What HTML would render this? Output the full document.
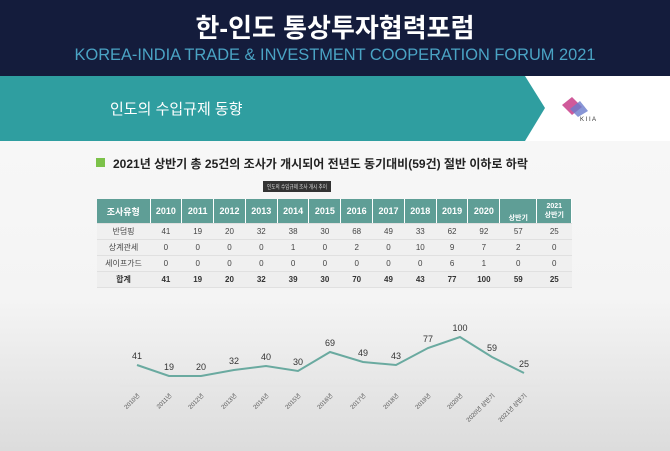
<!DOCTYPE html><html><head><meta charset="utf-8"><style>
body{margin:0;width:670px;height:451px;overflow:hidden;font-family:"Liberation Sans","Noto Sans CJK KR",sans-serif;background:linear-gradient(#fafafa,#f4f4f4 300px,#dcdcdc 451px);position:relative}
.hd{position:absolute;left:0;top:0;width:670px;height:76px;background:#141c3c}
.t1{position:absolute;top:8px;width:670px;text-align:center;color:#fff;font-size:26px;font-weight:bold}
.t2{position:absolute;top:46px;width:670px;text-align:center;color:#4aa3c4;font-size:16.4px}
.band{position:absolute;left:0;top:76px;width:670px;height:65px;background:#fff}
.teal{position:absolute;left:0;top:76px;width:545px;height:65px;background:#2f9ea0;clip-path:polygon(0 0,525px 0,545px 32px,525px 65px,0 65px)}
.sub{position:absolute;left:110px;top:98px;color:#fff;font-size:15px}
.title{position:absolute;left:113px;top:155px;font-size:12px;font-weight:bold;color:#222}
.sq{position:absolute;left:96px;top:158px;width:9px;height:9px;background:#7cc24a}
table{position:absolute;left:97px;top:199px;border-collapse:collapse;font-size:8px;color:#444}
td{text-align:center;height:15px;padding:0;border-bottom:1px solid #e0e0e0}
tr.h td{background:#5f9e96;color:#fff;font-weight:bold;height:24px;border-right:1px solid #fff;font-size:9px}
tr.t td{font-weight:bold;color:#333;background:#eee}
tr.s td{background:#f0f0f0}
</style></head><body>
<div class="hd"><div class="t1">한-인도 통상투자협력포럼</div><div class="t2">KOREA-INDIA TRADE &amp; INVESTMENT COOPERATION FORUM 2021</div></div>
<div class="band"></div><div class="teal"></div>
<div class="sub">인도의 수입규제 동향</div>
<svg style="position:absolute;left:558px;top:95px" width="60" height="30"><polygon points="4,10 14,2 24,12 14,20" fill="#d05a9a"/><polygon points="12,14 22,6 30,16 20,22" fill="#6a7ccc" opacity=".8"/><text x="22" y="26" font-size="6" fill="#333">K I I A</text></svg>
<div class="sq"></div><div class="title">2021년 상반기 총 25건의 조사가 개시되어 전년도 동기대비(59건) 절반 이하로 하락</div>
<svg style="position:absolute;left:263px;top:181px" width="68" height="11"><rect width="68" height="11" fill="#333"/><text x="4" y="8" font-size="6" fill="#ddd" textLength="60" lengthAdjust="spacingAndGlyphs" font-family="Liberation Sans,Noto Sans CJK KR,sans-serif">인도의 수입규제 조사 개시 추이</text></svg>
<table>
<colgroup><col style="width:53px"><col span="11" style="width:31.8px"><col style="width:37px"><col style="width:35px"></colgroup>
<tr class="h"><td>조사유형</td><td>2010</td><td>2011</td><td>2012</td><td>2013</td><td>2014</td><td>2015</td><td>2016</td><td>2017</td><td>2018</td><td>2019</td><td>2020</td><td style="font-size:7px;vertical-align:bottom">상반기</td><td style="font-size:7px">2021<br>상반기</td></tr>
<tr class="s"><td>반덤핑</td><td>41</td><td>19</td><td>20</td><td>32</td><td>38</td><td>30</td><td>68</td><td>49</td><td>33</td><td>62</td><td>92</td><td>57</td><td>25</td></tr>
<tr class="s"><td>상계관세</td><td>0</td><td>0</td><td>0</td><td>0</td><td>1</td><td>0</td><td>2</td><td>0</td><td>10</td><td>9</td><td>7</td><td>2</td><td>0</td></tr>
<tr class="s"><td>세이프가드</td><td>0</td><td>0</td><td>0</td><td>0</td><td>0</td><td>0</td><td>0</td><td>0</td><td>0</td><td>6</td><td>1</td><td>0</td><td>0</td></tr>
<tr class="t"><td>합계</td><td>41</td><td>19</td><td>20</td><td>32</td><td>39</td><td>30</td><td>70</td><td>49</td><td>43</td><td>77</td><td>100</td><td>59</td><td>25</td></tr>
</table>
<svg style="position:absolute;left:0;top:0" width="670" height="451" font-family="Liberation Sans,Noto Sans CJK KR,sans-serif">
<line x1="120" y1="386" x2="540" y2="386" stroke="#e4e4e4"/>
<polyline fill="none" stroke="#6aaaa0" stroke-width="2" points="137,365 169,376 201,376 234,370 266,366 298,371 330,352 363,362 396,365 428,348 460,337 492,357 524,373"/>
<g font-size="9" fill="#333" text-anchor="middle">
<text x="137" y="359">41</text><text x="169" y="370">19</text><text x="201" y="370">20</text><text x="234" y="364">32</text><text x="266" y="360">40</text><text x="298" y="365">30</text><text x="330" y="346">69</text><text x="363" y="356">49</text><text x="396" y="359">43</text><text x="428" y="342">77</text><text x="460" y="331">100</text><text x="492" y="351">59</text><text x="524" y="367">25</text></g>
<g font-size="6" fill="#555" text-anchor="end">
<text transform="translate(140,396) rotate(-45)">2010년</text><text transform="translate(172,396) rotate(-45)">2011년</text><text transform="translate(204,396) rotate(-45)">2012년</text><text transform="translate(237,396) rotate(-45)">2013년</text><text transform="translate(269,396) rotate(-45)">2014년</text><text transform="translate(301,396) rotate(-45)">2015년</text><text transform="translate(333,396) rotate(-45)">2016년</text><text transform="translate(366,396) rotate(-45)">2017년</text><text transform="translate(399,396) rotate(-45)">2018년</text><text transform="translate(431,396) rotate(-45)">2019년</text><text transform="translate(463,396) rotate(-45)">2020년</text><text transform="translate(495,396) rotate(-45)">2020년 상반기</text><text transform="translate(527,396) rotate(-45)">2021년 상반기</text></g>
</svg>
</body></html>
